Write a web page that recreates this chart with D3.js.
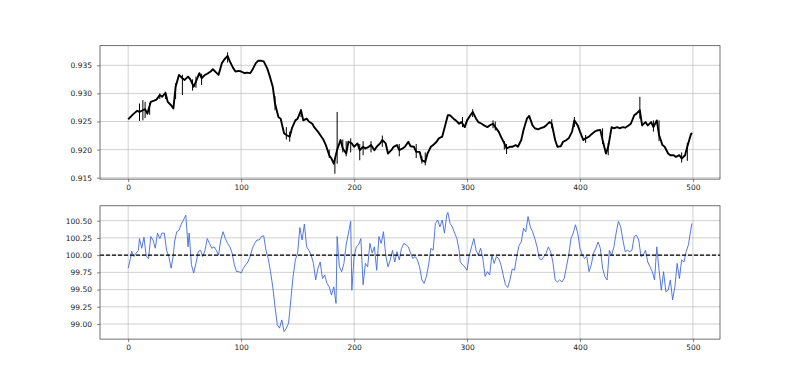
<!DOCTYPE html>
<html>
<head>
<meta charset="utf-8">
<script src="https://cdn.jsdelivr.net/npm/d3@7"></script>
<style>
  html, body { margin: 0; padding: 0; background: #fff; }
  svg { display: block; }
  text { font-family: "DejaVu Sans", sans-serif; }
</style>
</head>
<body>
<div id="chart"></div>
<script>
// ---- data ----
const topIndex = [0,3,5,8,10,13,15,17,20,23,25,28,30,33,35,38,40,42,45,48,50,53,55,58,60,63,65,68,70,73,75,78,80,83,85,88,90,93,95,98,100,103,105,108,110,113,115,118,120,123,125,128,130,133,135,138,140,143,145,148,150,153,155,158,160,163,165,168,170,173,175,178,180,182,185,188,190,193,195,198,200,203,205,208,210,213,215,218,220,223,225,228,230,233,235,238,240,243,245,248,250,253,255,258,260,263,265,268,270,273,275,278,280,283,285,288,290,293,295,298,300,303,305,308,310,313,315,318,320,323,325,328,330,333,335,338,340,343,345,348,350,353,355,358,360,363,365,368,370,373,375,378,380,383,385,388,390,393,395,398,400,403,405,408,410,413,415,418,420,423,425,428,430,433,435,438,440,443,445,448,450,453,455,458,460,463,465,468,470,473,475,478,480,483,485,488,490,493,495,498,499];
const topClose = [.9254,.9260,.9264,.9269,.9267,.9270,.9272,.9264,.9285,.9287,.9289,.9297,.9294,.9301,.9285,.9279,.9273,.9312,.9333,.9327,.9324,.9330,.9325,.9312,.9321,.9336,.9327,.9333,.9335,.9339,.9343,.9337,.9333,.9354,.9360,.9367,.9357,.9345,.9339,.9340,.9339,.9336,.9337,.9336,.9342,.9354,.9358,.9358,.9357,.9345,.9333,.9312,.9282,.9258,.9255,.9229,.9226,.9223,.9238,.9252,.9255,.9270,.9252,.9255,.9250,.9246,.9239,.9232,.9226,.9217,.9208,.9190,.9184,.9175,.9200,.9217,.9202,.9193,.9214,.9211,.9205,.9211,.9199,.9205,.9202,.9205,.9208,.9199,.9205,.9211,.9217,.9211,.9193,.9199,.9205,.9208,.9199,.9202,.9205,.9214,.9206,.9205,.9196,.9196,.9181,.9178,.9193,.9205,.9208,.9214,.9220,.9223,.9238,.9261,.9261,.9255,.9252,.9246,.9249,.9240,.9252,.9261,.9267,.9255,.9249,.9246,.9243,.9240,.9243,.9246,.9240,.9232,.9223,.9211,.9202,.9205,.9205,.9208,.9205,.9217,.9235,.9255,.9260,.9243,.9238,.9236,.9238,.9240,.9243,.9249,.9246,.9217,.9205,.9206,.9214,.9217,.9220,.9232,.9252,.9243,.9232,.9217,.9220,.9223,.9227,.9232,.9234,.9235,.9217,.9193,.9205,.9240,.9238,.9240,.9238,.9240,.9239,.9243,.9246,.9261,.9264,.9270,.9243,.9249,.9243,.9249,.9240,.9252,.9226,.9208,.9205,.9193,.9190,.9190,.9187,.9190,.9184,.9190,.9205,.9226,.9230];

// visible high/low wicks of the top series
const wickIndex = [10,13,15,19,28,33,42,48,57,60,65,88,130,140,143,153,178,183,185,190,193,197,205,208,215,225,240,255,260,263,296,305,323,325,333,335,375,395,405,420,425,453,465,470,490,495];
const wickLow  = [.9251,.9252,.9256,.9262,.9290,.9290,.9290,.9297,.9305,.9310,.9315,.9355,.9270,.9218,.9214,.9258,.9185,.9157,.9175,.9195,.9188,.9195,.9181,.9190,.9195,.9205,.9188,.9185,.9175,.9172,.9240,.9258,.9238,.9234,.9200,.9192,.9238,.9240,.9212,.9210,.9190,.9255,.9232,.9215,.9177,.9180];
const wickHigh = [.9282,.9288,.9285,.9283,.9300,.9303,.9318,.9333,.9325,.9330,.9335,.9373,.9295,.9240,.9232,.9272,.9200,.9185,.9267,.9218,.9215,.9220,.9210,.9215,.9215,.9225,.9210,.9210,.9188,.9195,.9258,.9272,.9252,.9250,.9215,.9210,.9254,.9258,.9226,.9238,.9212,.9294,.9252,.9252,.9195,.9212];

const oscIndex = [0,2,3,5,7,9,10,12,14,16,18,20,22,24,26,28,30,32,34,36,38,40,41,43,45,47,49,51,52,53,54,56,58,60,62,64,66,68,70,72,74,76,78,80,82,84,86,88,90,92,94,96,98,100,102,104,106,108,110,112,114,116,118,120,122,124,126,128,130,132,134,136,138,140,142,144,146,148,150,152,154,156,158,160,162,164,166,168,170,172,174,176,178,180,182,184,185,187,189,191,193,195,197,198,200,202,204,206,208,210,212,214,216,218,220,222,224,226,228,230,232,234,236,238,240,242,244,246,248,250,252,254,256,258,260,262,264,266,268,270,272,274,276,278,280,282,283,285,287,289,291,293,294,296,298,300,302,304,306,308,310,312,314,316,318,320,322,324,326,328,330,332,334,336,338,340,342,344,346,348,350,352,354,356,358,360,362,364,366,368,370,372,374,376,378,380,382,384,386,388,390,392,394,396,398,400,402,404,406,408,410,412,414,416,418,420,422,424,426,428,430,432,434,436,438,440,442,444,446,448,450,452,454,456,458,460,462,464,466,468,470,472,474,476,478,480,482,484,486,488,490,492,494,496,498,499];
const oscValues = [99.81,99.95,100.06,99.98,100.03,100.07,100.24,100.10,100.26,99.98,99.95,100.27,100.22,100.10,100.32,100.24,100.32,100.32,100.07,99.98,99.81,100.00,100.19,100.34,100.36,100.45,100.51,100.58,100.36,100.12,100.32,99.86,99.74,99.88,100.05,100.07,99.98,100.07,100.24,100.17,100.10,100.12,100.07,100.00,100.22,100.34,100.24,100.17,100.12,100.03,99.86,99.76,99.76,99.74,99.81,99.86,99.90,99.98,100.10,100.17,100.22,100.22,100.27,100.28,100.07,99.95,99.76,99.54,99.25,98.99,98.94,99.06,98.89,98.94,99.01,99.35,99.69,99.93,100.03,100.40,100.22,100.45,100.12,100.07,100.00,99.88,99.64,99.81,99.90,99.66,99.71,99.59,99.54,99.42,99.54,99.30,100.27,99.83,99.76,99.88,100.15,100.32,100.49,99.49,99.98,100.12,100.15,100.24,99.57,99.88,99.83,100.17,100.03,100.12,99.78,100.27,100.17,100.34,100.00,99.83,99.93,100.07,99.90,100.05,99.93,100.10,100.17,100.15,100.12,100.03,99.95,99.98,99.93,99.83,99.64,99.59,99.69,99.86,100.10,100.07,100.46,100.51,100.41,100.51,100.32,100.58,100.62,100.46,100.41,100.32,100.24,100.07,99.90,99.86,99.83,99.78,100.00,100.12,100.24,100.07,100.00,100.10,99.95,99.69,99.76,99.71,100.00,99.88,99.98,99.95,99.86,99.71,99.57,99.53,99.64,99.80,99.78,99.98,100.14,100.19,100.39,100.34,100.56,100.41,100.34,100.24,100.12,99.95,99.93,99.98,100.03,100.12,100.05,99.90,99.64,99.61,99.64,99.61,99.66,99.83,100.00,100.24,100.32,100.44,100.32,100.10,100.00,99.95,99.98,99.76,99.86,100.03,100.10,100.19,100.10,99.81,99.69,99.64,100.07,100.00,100.12,100.32,100.49,100.41,100.22,100.05,100.07,100.05,100.07,100.27,100.29,100.22,99.98,100.00,100.07,99.90,99.83,99.76,99.64,100.12,99.78,99.49,99.76,99.47,99.49,99.64,99.35,99.54,99.88,99.66,99.93,99.90,100.05,100.15,100.36,100.46];
const refLevel = 100;

const xTicks = [0,100,200,300,400,500];
const topTicks = [0.915,0.920,0.925,0.930,0.935];
const oscTicks = [99.00,99.25,99.50,99.75,100.00,100.25,100.50];

// ---- layout ----
const W = 800, H = 381;
const L = 100, R = 720;
const top1 = 45.7, bot1 = 179.1, top2 = 205.8, bot2 = 339.1;
const gridColor = "#b0b0b0";
const fontSize = 7.5;

const svg = d3.select("#chart").append("svg").attr("width", W).attr("height", H);

const x = d3.scaleLinear().domain([-24.95, 523.95]).range([L, R]);
const y1 = d3.scaleLinear().domain([0.91475, 0.93849]).range([bot1, top1]);
const y2 = d3.scaleLinear().domain([98.781, 100.716]).range([bot2, top2]);

function panel(y, top, bot, yTicks, yFmt, id) {
  const g = svg.append("g");
  svg.append("clipPath").attr("id", id).append("rect")
    .attr("x", L).attr("y", top).attr("width", R - L).attr("height", bot - top);
  g.append("g").selectAll("line").data(xTicks).join("line")
    .attr("x1", d => x(d)).attr("x2", d => x(d)).attr("y1", top).attr("y2", bot)
    .attr("stroke", gridColor).attr("stroke-width", 0.6);
  g.append("g").selectAll("line").data(yTicks).join("line")
    .attr("y1", d => y(d)).attr("y2", d => y(d)).attr("x1", L).attr("x2", R)
    .attr("stroke", gridColor).attr("stroke-width", 0.6);
  const xa = svg.append("g").attr("transform", `translate(0,${bot})`)
    .call(d3.axisBottom(x).tickValues(xTicks).tickFormat(d3.format("d")).tickSize(3).tickPadding(3));
  const ya = svg.append("g").attr("transform", `translate(${L},0)`)
    .call(d3.axisLeft(y).tickValues(yTicks).tickFormat(yFmt).tickSize(3).tickPadding(5));
  [xa, ya].forEach(a => {
    a.select(".domain").remove();
    a.selectAll("line").attr("stroke", "#333").attr("stroke-width", 0.6);
    a.selectAll("text").attr("font-size", fontSize).attr("fill", "#222")
      .attr("font-family", "DejaVu Sans, sans-serif");
  });
  return g;
}

function frame(top, bot) {
  svg.append("rect").attr("x", L).attr("y", top).attr("width", R - L).attr("height", bot - top)
    .attr("fill", "none").attr("stroke", "#333").attr("stroke-width", 0.7);
}

// top panel
panel(y1, top1, bot1, topTicks, d3.format(".3f"), "clip1");
const topData = topIndex.map((d, i) => ({ i: d, c: topClose[i] }));
const wickData = wickIndex.map((d, i) => ({ i: d, lo: wickLow[i], hi: wickHigh[i] }));
const p1 = svg.append("g").attr("clip-path", "url(#clip1)");
p1.selectAll("line.wick").data(wickData).join("line").attr("class", "wick")
  .attr("x1", d => x(d.i)).attr("x2", d => x(d.i))
  .attr("y1", d => y1(d.lo)).attr("y2", d => y1(d.hi))
  .attr("stroke", "#000").attr("stroke-width", 1);
p1.append("path").datum(topData)
  .attr("d", d3.line().x(d => x(d.i)).y(d => y1(d.c)))
  .attr("fill", "none").attr("stroke", "#000").attr("stroke-width", 1.9).attr("stroke-linejoin", "round");
frame(top1, bot1);

// bottom panel
panel(y2, top2, bot2, oscTicks, d3.format(".2f"), "clip2");
const oscData = oscIndex.map((d, i) => ({ i: d, v: oscValues[i] }));
const p2 = svg.append("g").attr("clip-path", "url(#clip2)");
p2.append("path").datum(oscData)
  .attr("d", d3.line().x(d => x(d.i)).y(d => y2(d.v)))
  .attr("fill", "none").attr("stroke", "#4169e1").attr("stroke-width", 0.9).attr("stroke-linejoin", "round");
p2.append("line").attr("x1", L).attr("x2", R).attr("y1", y2(refLevel)).attr("y2", y2(refLevel))
  .attr("stroke", "#000").attr("stroke-width", 1.1).attr("stroke-dasharray", "4,2");
frame(top2, bot2);
</script>
</body>
</html>
